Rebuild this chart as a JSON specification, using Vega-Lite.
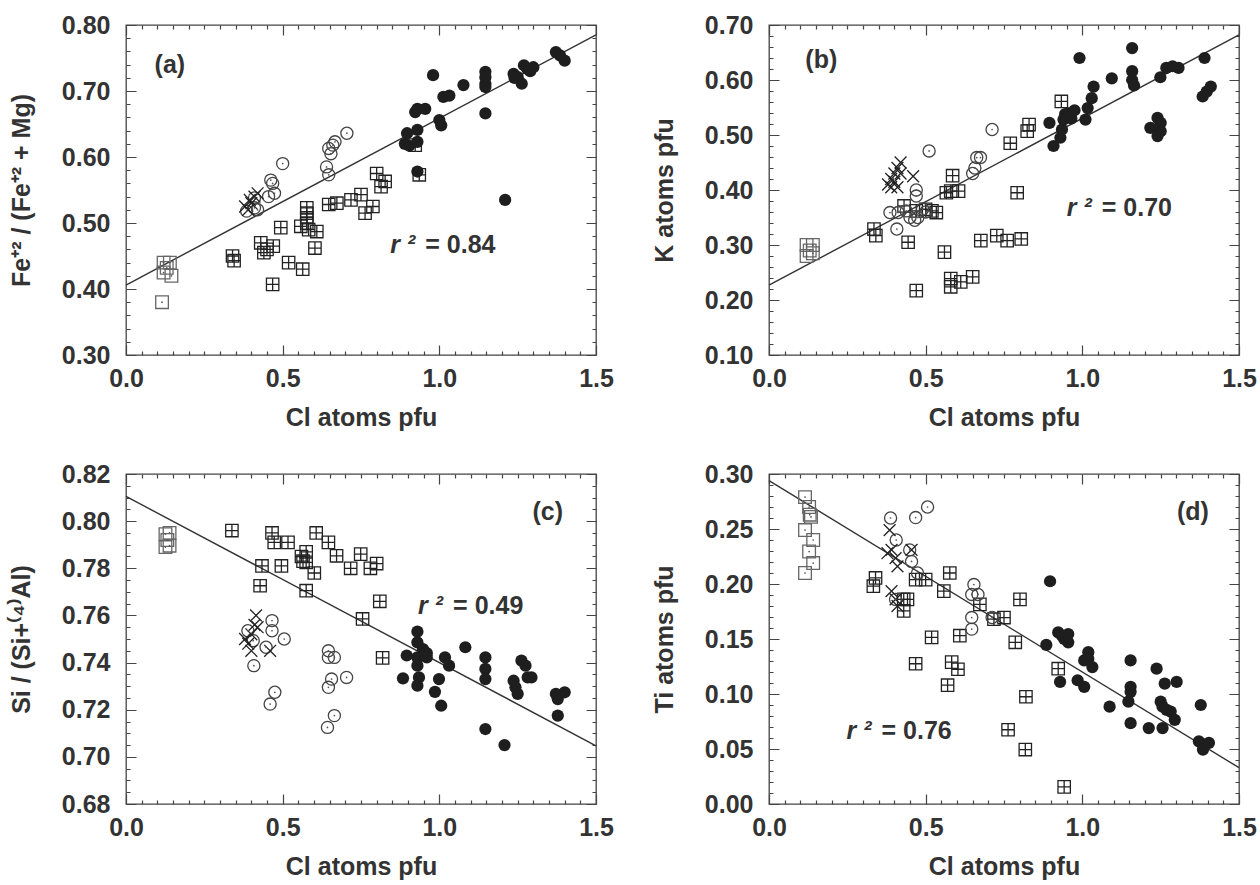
{
"$schema": "https://vega.github.io/schema/vega-lite/v6.json",
"padding": {"left": 8, "top": 12, "right": 5, "bottom": 5},
"columns": 2,
"spacing": {"row": 30, "column": 36},
"config": {
 "font": "Liberation Sans",
 "view": {"stroke": "#444", "strokeWidth": 1.3},
 "axis": {"domain": false, "ticks": false, "grid": true, "gridColor": "#444", "gridWidth": 1.2, "gridOpacity": 1, "labelFont": "Liberation Sans", "labelFontSize": 25, "labelFontWeight": "bold", "labelColor": "#333", "titleFont": "Liberation Sans", "titleFontSize": 25, "titleFontWeight": "bold", "titleColor": "#333", "labelFlush": false, "labelOverlap": false, "tickCount": 200}
},
"datasets": {
 "lines": [
  {"p":"a","cl":0,"v":0.406},{"p":"a","cl":1.5,"v":0.785},
  {"p":"b","cl":0,"v":0.227},{"p":"b","cl":1.5,"v":0.682},
  {"p":"c","cl":0,"v":0.8105},{"p":"c","cl":1.5,"v":0.7047},
  {"p":"d","cl":0,"v":0.294},{"p":"d","cl":1.5,"v":0.033}
 ],
 "ann": [
  {"p":"a","k":"lab","cl":0.14,"v":0.739,"t":"(a)"},{"p":"a","k":"r2","cl":0.955,"v":0.467,"t":"= 0.84"},
  {"p":"b","k":"lab","cl":0.167,"v":0.637,"t":"(b)"},{"p":"b","k":"r2","cl":1.062,"v":0.368,"t":"= 0.70"},
  {"p":"c","k":"lab","cl":1.346,"v":0.8037,"t":"(c)"},{"p":"c","k":"r2","cl":1.044,"v":0.764,"t":"= 0.49"},
  {"p":"d","k":"lab","cl":1.353,"v":0.2655,"t":"(d)"},{"p":"d","k":"r2","cl":0.359,"v":0.066,"t":"= 0.76"}
 ],
 "pts": [
  {"p":"a","s":"sq","cl":0.12,"v":0.44},{"p":"a","s":"sq","cl":0.14,"v":0.44},{"p":"a","s":"sq","cl":0.12,"v":0.425},{"p":"a","s":"sq","cl":0.145,"v":0.42},{"p":"a","s":"sq","cl":0.13,"v":0.432},{"p":"a","s":"sq","cl":0.115,"v":0.38},
  {"p":"a","s":"sqp","cl":0.34,"v":0.45},{"p":"a","s":"sqp","cl":0.345,"v":0.443},{"p":"a","s":"sqp","cl":0.43,"v":0.47},{"p":"a","s":"sqp","cl":0.44,"v":0.455},{"p":"a","s":"sqp","cl":0.47,"v":0.465},{"p":"a","s":"sqp","cl":0.45,"v":0.46},{"p":"a","s":"sqp","cl":0.468,"v":0.407},{"p":"a","s":"sqp","cl":0.494,"v":0.493},{"p":"a","s":"sqp","cl":0.519,"v":0.44},{"p":"a","s":"sqp","cl":0.564,"v":0.43},{"p":"a","s":"sqp","cl":0.558,"v":0.495},{"p":"a","s":"sqp","cl":0.577,"v":0.523},{"p":"a","s":"sqp","cl":0.577,"v":0.515},{"p":"a","s":"sqp","cl":0.577,"v":0.508},{"p":"a","s":"sqp","cl":0.577,"v":0.5},{"p":"a","s":"sqp","cl":0.583,"v":0.49},{"p":"a","s":"sqp","cl":0.609,"v":0.487},{"p":"a","s":"sqp","cl":0.603,"v":0.462},{"p":"a","s":"sqp","cl":0.647,"v":0.528},{"p":"a","s":"sqp","cl":0.673,"v":0.53},{"p":"a","s":"sqp","cl":0.718,"v":0.535},{"p":"a","s":"sqp","cl":0.75,"v":0.543},{"p":"a","s":"sqp","cl":0.763,"v":0.515},{"p":"a","s":"sqp","cl":0.788,"v":0.525},{"p":"a","s":"sqp","cl":0.8,"v":0.575},{"p":"a","s":"sqp","cl":0.814,"v":0.555},{"p":"a","s":"sqp","cl":0.827,"v":0.563},{"p":"a","s":"sqp","cl":0.923,"v":0.618},{"p":"a","s":"sqp","cl":0.936,"v":0.573},
  {"p":"a","s":"circ","cl":0.385,"v":0.518},{"p":"a","s":"circ","cl":0.41,"v":0.523},{"p":"a","s":"circ","cl":0.41,"v":0.538},{"p":"a","s":"circ","cl":0.455,"v":0.54},{"p":"a","s":"circ","cl":0.474,"v":0.545},{"p":"a","s":"circ","cl":0.462,"v":0.565},{"p":"a","s":"circ","cl":0.468,"v":0.56},{"p":"a","s":"circ","cl":0.5,"v":0.59},{"p":"a","s":"circ","cl":0.64,"v":0.585},{"p":"a","s":"circ","cl":0.647,"v":0.573},{"p":"a","s":"circ","cl":0.647,"v":0.613},{"p":"a","s":"circ","cl":0.654,"v":0.605},{"p":"a","s":"circ","cl":0.667,"v":0.623},{"p":"a","s":"circ","cl":0.66,"v":0.618},{"p":"a","s":"circ","cl":0.705,"v":0.636},{"p":"a","s":"circ","cl":0.42,"v":0.52},
  {"p":"a","s":"x","cl":0.38,"v":0.525},{"p":"a","s":"x","cl":0.39,"v":0.52},{"p":"a","s":"x","cl":0.4,"v":0.53},{"p":"a","s":"x","cl":0.41,"v":0.54},{"p":"a","s":"x","cl":0.42,"v":0.545},{"p":"a","s":"x","cl":0.395,"v":0.535},
  {"p":"a","s":"f","cl":0.89,"v":0.62},{"p":"a","s":"f","cl":0.904,"v":0.617},{"p":"a","s":"f","cl":0.93,"v":0.623},{"p":"a","s":"f","cl":0.897,"v":0.636},{"p":"a","s":"f","cl":0.93,"v":0.641},{"p":"a","s":"f","cl":0.923,"v":0.668},{"p":"a","s":"f","cl":0.93,"v":0.673},{"p":"a","s":"f","cl":0.955,"v":0.673},{"p":"a","s":"f","cl":0.93,"v":0.578},{"p":"a","s":"f","cl":0.98,"v":0.724},{"p":"a","s":"f","cl":1.0,"v":0.656},{"p":"a","s":"f","cl":1.006,"v":0.648},{"p":"a","s":"f","cl":1.013,"v":0.691},{"p":"a","s":"f","cl":1.032,"v":0.693},{"p":"a","s":"f","cl":1.077,"v":0.709},{"p":"a","s":"f","cl":1.147,"v":0.729},{"p":"a","s":"f","cl":1.147,"v":0.721},{"p":"a","s":"f","cl":1.147,"v":0.711},{"p":"a","s":"f","cl":1.147,"v":0.706},{"p":"a","s":"f","cl":1.147,"v":0.666},{"p":"a","s":"f","cl":1.21,"v":0.535},{"p":"a","s":"f","cl":1.237,"v":0.726},{"p":"a","s":"f","cl":1.25,"v":0.721},{"p":"a","s":"f","cl":1.263,"v":0.711},{"p":"a","s":"f","cl":1.27,"v":0.739},{"p":"a","s":"f","cl":1.28,"v":0.734},{"p":"a","s":"f","cl":1.3,"v":0.736},{"p":"a","s":"f","cl":1.372,"v":0.759},{"p":"a","s":"f","cl":1.385,"v":0.754},{"p":"a","s":"f","cl":1.4,"v":0.746},{"p":"a","s":"f","cl":1.29,"v":0.73},{"p":"a","s":"f","cl":1.24,"v":0.72},

  {"p":"b","s":"sq","cl":0.12,"v":0.3},{"p":"b","s":"sq","cl":0.12,"v":0.28},{"p":"b","s":"sq","cl":0.14,"v":0.3},{"p":"b","s":"sq","cl":0.14,"v":0.285},{"p":"b","s":"sq","cl":0.13,"v":0.29},
  {"p":"b","s":"sqp","cl":0.335,"v":0.329},{"p":"b","s":"sqp","cl":0.341,"v":0.317},{"p":"b","s":"sqp","cl":0.431,"v":0.371},{"p":"b","s":"sqp","cl":0.444,"v":0.305},{"p":"b","s":"sqp","cl":0.47,"v":0.362},{"p":"b","s":"sqp","cl":0.5,"v":0.365},{"p":"b","s":"sqp","cl":0.52,"v":0.362},{"p":"b","s":"sqp","cl":0.534,"v":0.359},{"p":"b","s":"sqp","cl":0.47,"v":0.217},{"p":"b","s":"sqp","cl":0.56,"v":0.287},{"p":"b","s":"sqp","cl":0.566,"v":0.395},{"p":"b","s":"sqp","cl":0.58,"v":0.398},{"p":"b","s":"sqp","cl":0.586,"v":0.426},{"p":"b","s":"sqp","cl":0.605,"v":0.398},{"p":"b","s":"sqp","cl":0.58,"v":0.239},{"p":"b","s":"sqp","cl":0.58,"v":0.224},{"p":"b","s":"sqp","cl":0.612,"v":0.233},{"p":"b","s":"sqp","cl":0.65,"v":0.242},{"p":"b","s":"sqp","cl":0.676,"v":0.308},{"p":"b","s":"sqp","cl":0.727,"v":0.317},{"p":"b","s":"sqp","cl":0.76,"v":0.308},{"p":"b","s":"sqp","cl":0.805,"v":0.311},{"p":"b","s":"sqp","cl":0.792,"v":0.395},{"p":"b","s":"sqp","cl":0.77,"v":0.485},{"p":"b","s":"sqp","cl":0.824,"v":0.507},{"p":"b","s":"sqp","cl":0.83,"v":0.519},{"p":"b","s":"sqp","cl":0.933,"v":0.561},
  {"p":"b","s":"circ","cl":0.386,"v":0.359},{"p":"b","s":"circ","cl":0.412,"v":0.359},{"p":"b","s":"circ","cl":0.438,"v":0.362},{"p":"b","s":"circ","cl":0.408,"v":0.329},{"p":"b","s":"circ","cl":0.45,"v":0.35},{"p":"b","s":"circ","cl":0.465,"v":0.345},{"p":"b","s":"circ","cl":0.475,"v":0.35},{"p":"b","s":"circ","cl":0.49,"v":0.365},{"p":"b","s":"circ","cl":0.5,"v":0.36},{"p":"b","s":"circ","cl":0.47,"v":0.4},{"p":"b","s":"circ","cl":0.47,"v":0.389},{"p":"b","s":"circ","cl":0.511,"v":0.471},{"p":"b","s":"circ","cl":0.657,"v":0.44},{"p":"b","s":"circ","cl":0.663,"v":0.459},{"p":"b","s":"circ","cl":0.675,"v":0.459},{"p":"b","s":"circ","cl":0.65,"v":0.43},{"p":"b","s":"circ","cl":0.712,"v":0.51},
  {"p":"b","s":"x","cl":0.38,"v":0.41},{"p":"b","s":"x","cl":0.39,"v":0.42},{"p":"b","s":"x","cl":0.4,"v":0.43},{"p":"b","s":"x","cl":0.41,"v":0.44},{"p":"b","s":"x","cl":0.42,"v":0.45},{"p":"b","s":"x","cl":0.4,"v":0.415},{"p":"b","s":"x","cl":0.41,"v":0.405},{"p":"b","s":"x","cl":0.42,"v":0.43},{"p":"b","s":"x","cl":0.39,"v":0.405},{"p":"b","s":"x","cl":0.46,"v":0.425},
  {"p":"b","s":"f","cl":0.895,"v":0.522},{"p":"b","s":"f","cl":0.908,"v":0.48},{"p":"b","s":"f","cl":0.93,"v":0.495},{"p":"b","s":"f","cl":0.935,"v":0.51},{"p":"b","s":"f","cl":0.94,"v":0.528},{"p":"b","s":"f","cl":0.945,"v":0.538},{"p":"b","s":"f","cl":0.96,"v":0.54},{"p":"b","s":"f","cl":0.965,"v":0.53},{"p":"b","s":"f","cl":0.975,"v":0.545},{"p":"b","s":"f","cl":1.01,"v":0.528},{"p":"b","s":"f","cl":1.017,"v":0.549},{"p":"b","s":"f","cl":1.03,"v":0.567},{"p":"b","s":"f","cl":1.036,"v":0.588},{"p":"b","s":"f","cl":0.991,"v":0.64},{"p":"b","s":"f","cl":1.094,"v":0.603},{"p":"b","s":"f","cl":1.159,"v":0.658},{"p":"b","s":"f","cl":1.159,"v":0.616},{"p":"b","s":"f","cl":1.159,"v":0.6},{"p":"b","s":"f","cl":1.165,"v":0.59},{"p":"b","s":"f","cl":1.217,"v":0.513},{"p":"b","s":"f","cl":1.24,"v":0.531},{"p":"b","s":"f","cl":1.25,"v":0.522},{"p":"b","s":"f","cl":1.25,"v":0.507},{"p":"b","s":"f","cl":1.24,"v":0.498},{"p":"b","s":"f","cl":1.249,"v":0.605},{"p":"b","s":"f","cl":1.268,"v":0.622},{"p":"b","s":"f","cl":1.288,"v":0.625},{"p":"b","s":"f","cl":1.307,"v":0.622},{"p":"b","s":"f","cl":1.39,"v":0.64},{"p":"b","s":"f","cl":1.384,"v":0.57},{"p":"b","s":"f","cl":1.397,"v":0.579},{"p":"b","s":"f","cl":1.41,"v":0.588},

  {"p":"c","s":"sq","cl":0.126,"v":0.7945},{"p":"c","s":"sq","cl":0.126,"v":0.789},{"p":"c","s":"sq","cl":0.139,"v":0.795},{"p":"c","s":"sq","cl":0.139,"v":0.7896},{"p":"c","s":"sq","cl":0.132,"v":0.792},
  {"p":"c","s":"sqp","cl":0.338,"v":0.796},{"p":"c","s":"sqp","cl":0.434,"v":0.781},{"p":"c","s":"sqp","cl":0.428,"v":0.7726},{"p":"c","s":"sqp","cl":0.466,"v":0.795},{"p":"c","s":"sqp","cl":0.473,"v":0.791},{"p":"c","s":"sqp","cl":0.496,"v":0.781},{"p":"c","s":"sqp","cl":0.517,"v":0.791},{"p":"c","s":"sqp","cl":0.56,"v":0.785},{"p":"c","s":"sqp","cl":0.575,"v":0.787},{"p":"c","s":"sqp","cl":0.575,"v":0.7825},{"p":"c","s":"sqp","cl":0.565,"v":0.783},{"p":"c","s":"sqp","cl":0.601,"v":0.778},{"p":"c","s":"sqp","cl":0.607,"v":0.795},{"p":"c","s":"sqp","cl":0.575,"v":0.7705},{"p":"c","s":"sqp","cl":0.646,"v":0.791},{"p":"c","s":"sqp","cl":0.672,"v":0.7853},{"p":"c","s":"sqp","cl":0.717,"v":0.78},{"p":"c","s":"sqp","cl":0.749,"v":0.786},{"p":"c","s":"sqp","cl":0.78,"v":0.78},{"p":"c","s":"sqp","cl":0.8,"v":0.782},{"p":"c","s":"sqp","cl":0.81,"v":0.766},{"p":"c","s":"sqp","cl":0.755,"v":0.7585},{"p":"c","s":"sqp","cl":0.819,"v":0.742},
  {"p":"c","s":"circ","cl":0.389,"v":0.7535},{"p":"c","s":"circ","cl":0.406,"v":0.7493},{"p":"c","s":"circ","cl":0.408,"v":0.7387},{"p":"c","s":"circ","cl":0.466,"v":0.7578},{"p":"c","s":"circ","cl":0.466,"v":0.7535},{"p":"c","s":"circ","cl":0.447,"v":0.7465},{"p":"c","s":"circ","cl":0.505,"v":0.75},{"p":"c","s":"circ","cl":0.46,"v":0.7224},{"p":"c","s":"circ","cl":0.475,"v":0.7274},{"p":"c","s":"circ","cl":0.646,"v":0.745},{"p":"c","s":"circ","cl":0.646,"v":0.7422},{"p":"c","s":"circ","cl":0.665,"v":0.7422},{"p":"c","s":"circ","cl":0.646,"v":0.7295},{"p":"c","s":"circ","cl":0.656,"v":0.733},{"p":"c","s":"circ","cl":0.704,"v":0.7337},{"p":"c","s":"circ","cl":0.665,"v":0.7175},{"p":"c","s":"circ","cl":0.643,"v":0.7125},
  {"p":"c","s":"x","cl":0.38,"v":0.75},{"p":"c","s":"x","cl":0.39,"v":0.748},{"p":"c","s":"x","cl":0.4,"v":0.752},{"p":"c","s":"x","cl":0.41,"v":0.756},{"p":"c","s":"x","cl":0.415,"v":0.76},{"p":"c","s":"x","cl":0.4,"v":0.745},{"p":"c","s":"x","cl":0.42,"v":0.755},{"p":"c","s":"x","cl":0.46,"v":0.745},
  {"p":"c","s":"f","cl":0.884,"v":0.7333},{"p":"c","s":"f","cl":0.896,"v":0.743},{"p":"c","s":"f","cl":0.93,"v":0.7531},{"p":"c","s":"f","cl":0.93,"v":0.7486},{"p":"c","s":"f","cl":0.93,"v":0.7422},{"p":"c","s":"f","cl":0.93,"v":0.7387},{"p":"c","s":"f","cl":0.935,"v":0.7337},{"p":"c","s":"f","cl":0.93,"v":0.7302},{"p":"c","s":"f","cl":0.948,"v":0.7457},{"p":"c","s":"f","cl":0.96,"v":0.744},{"p":"c","s":"f","cl":0.96,"v":0.7422},{"p":"c","s":"f","cl":0.986,"v":0.7276},{"p":"c","s":"f","cl":0.999,"v":0.733},{"p":"c","s":"f","cl":1.006,"v":0.7217},{"p":"c","s":"f","cl":1.018,"v":0.7422},{"p":"c","s":"f","cl":1.031,"v":0.7387},{"p":"c","s":"f","cl":1.083,"v":0.7465},{"p":"c","s":"f","cl":1.147,"v":0.7422},{"p":"c","s":"f","cl":1.147,"v":0.7373},{"p":"c","s":"f","cl":1.147,"v":0.733},{"p":"c","s":"f","cl":1.147,"v":0.7118},{"p":"c","s":"f","cl":1.208,"v":0.705},{"p":"c","s":"f","cl":1.237,"v":0.7323},{"p":"c","s":"f","cl":1.243,"v":0.7295},{"p":"c","s":"f","cl":1.25,"v":0.7267},{"p":"c","s":"f","cl":1.262,"v":0.7408},{"p":"c","s":"f","cl":1.275,"v":0.7387},{"p":"c","s":"f","cl":1.282,"v":0.7337},{"p":"c","s":"f","cl":1.294,"v":0.7337},{"p":"c","s":"f","cl":1.372,"v":0.7267},{"p":"c","s":"f","cl":1.378,"v":0.7245},{"p":"c","s":"f","cl":1.378,"v":0.7175},{"p":"c","s":"f","cl":1.4,"v":0.7274},

  {"p":"d","s":"sq","cl":0.115,"v":0.279},{"p":"d","s":"sq","cl":0.128,"v":0.27},{"p":"d","s":"sq","cl":0.134,"v":0.261},{"p":"d","s":"sq","cl":0.115,"v":0.249},{"p":"d","s":"sq","cl":0.141,"v":0.24},{"p":"d","s":"sq","cl":0.128,"v":0.2295},{"p":"d","s":"sq","cl":0.141,"v":0.219},{"p":"d","s":"sq","cl":0.115,"v":0.21},{"p":"d","s":"sq","cl":0.13,"v":0.263},
  {"p":"d","s":"sqp","cl":0.34,"v":0.2055},{"p":"d","s":"sqp","cl":0.333,"v":0.198},{"p":"d","s":"sqp","cl":0.43,"v":0.186},{"p":"d","s":"sqp","cl":0.442,"v":0.186},{"p":"d","s":"sqp","cl":0.43,"v":0.1755},{"p":"d","s":"sqp","cl":0.468,"v":0.204},{"p":"d","s":"sqp","cl":0.5,"v":0.204},{"p":"d","s":"sqp","cl":0.468,"v":0.1275},{"p":"d","s":"sqp","cl":0.519,"v":0.1515},{"p":"d","s":"sqp","cl":0.558,"v":0.1935},{"p":"d","s":"sqp","cl":0.577,"v":0.21},{"p":"d","s":"sqp","cl":0.583,"v":0.129},{"p":"d","s":"sqp","cl":0.603,"v":0.1225},{"p":"d","s":"sqp","cl":0.57,"v":0.108},{"p":"d","s":"sqp","cl":0.609,"v":0.153},{"p":"d","s":"sqp","cl":0.673,"v":0.1815},{"p":"d","s":"sqp","cl":0.718,"v":0.168},{"p":"d","s":"sqp","cl":0.75,"v":0.1695},{"p":"d","s":"sqp","cl":0.786,"v":0.147},{"p":"d","s":"sqp","cl":0.801,"v":0.186},{"p":"d","s":"sqp","cl":0.763,"v":0.0675},{"p":"d","s":"sqp","cl":0.82,"v":0.0975},{"p":"d","s":"sqp","cl":0.818,"v":0.0495},{"p":"d","s":"sqp","cl":0.923,"v":0.123},{"p":"d","s":"sqp","cl":0.942,"v":0.0156},
  {"p":"d","s":"circ","cl":0.388,"v":0.26},{"p":"d","s":"circ","cl":0.406,"v":0.24},{"p":"d","s":"circ","cl":0.449,"v":0.231},{"p":"d","s":"circ","cl":0.455,"v":0.2205},{"p":"d","s":"circ","cl":0.404,"v":0.186},{"p":"d","s":"circ","cl":0.474,"v":0.21},{"p":"d","s":"circ","cl":0.468,"v":0.2604},{"p":"d","s":"circ","cl":0.506,"v":0.27},{"p":"d","s":"circ","cl":0.654,"v":0.1995},{"p":"d","s":"circ","cl":0.647,"v":0.1905},{"p":"d","s":"circ","cl":0.667,"v":0.1905},{"p":"d","s":"circ","cl":0.647,"v":0.1695},{"p":"d","s":"circ","cl":0.647,"v":0.159},{"p":"d","s":"circ","cl":0.712,"v":0.1695},
  {"p":"d","s":"x","cl":0.385,"v":0.249},{"p":"d","s":"x","cl":0.391,"v":0.231},{"p":"d","s":"x","cl":0.378,"v":0.228},{"p":"d","s":"x","cl":0.404,"v":0.2235},{"p":"d","s":"x","cl":0.41,"v":0.216},{"p":"d","s":"x","cl":0.391,"v":0.1935},{"p":"d","s":"x","cl":0.404,"v":0.186},{"p":"d","s":"x","cl":0.41,"v":0.18},{"p":"d","s":"x","cl":0.455,"v":0.231},
  {"p":"d","s":"f","cl":0.897,"v":0.2025},{"p":"d","s":"f","cl":0.885,"v":0.1446},{"p":"d","s":"f","cl":0.923,"v":0.156},{"p":"d","s":"f","cl":0.935,"v":0.153},{"p":"d","s":"f","cl":0.942,"v":0.15},{"p":"d","s":"f","cl":0.955,"v":0.1545},{"p":"d","s":"f","cl":0.955,"v":0.147},{"p":"d","s":"f","cl":0.929,"v":0.111},{"p":"d","s":"f","cl":0.985,"v":0.1125},{"p":"d","s":"f","cl":1.006,"v":0.1305},{"p":"d","s":"f","cl":1.019,"v":0.138},{"p":"d","s":"f","cl":1.019,"v":0.132},{"p":"d","s":"f","cl":1.032,"v":0.1245},{"p":"d","s":"f","cl":1.006,"v":0.1065},{"p":"d","s":"f","cl":1.087,"v":0.0885},{"p":"d","s":"f","cl":1.154,"v":0.1305},{"p":"d","s":"f","cl":1.154,"v":0.1065},{"p":"d","s":"f","cl":1.154,"v":0.102},{"p":"d","s":"f","cl":1.147,"v":0.093},{"p":"d","s":"f","cl":1.154,"v":0.0735},{"p":"d","s":"f","cl":1.212,"v":0.069},{"p":"d","s":"f","cl":1.237,"v":0.123},{"p":"d","s":"f","cl":1.25,"v":0.093},{"p":"d","s":"f","cl":1.256,"v":0.0885},{"p":"d","s":"f","cl":1.269,"v":0.0855},{"p":"d","s":"f","cl":1.282,"v":0.084},{"p":"d","s":"f","cl":1.295,"v":0.0765},{"p":"d","s":"f","cl":1.256,"v":0.069},{"p":"d","s":"f","cl":1.263,"v":0.1095},{"p":"d","s":"f","cl":1.301,"v":0.111},{"p":"d","s":"f","cl":1.378,"v":0.09},{"p":"d","s":"f","cl":1.372,"v":0.057},{"p":"d","s":"f","cl":1.391,"v":0.054},{"p":"d","s":"f","cl":1.404,"v":0.0555},{"p":"d","s":"f","cl":1.385,"v":0.0495}
 ]
},
"concat": [
 {
  "width": 470, "height": 330,
  "layer": [
   {"data": {"name": "lines"}, "transform": [{"filter": "datum.p === 'a'"}],
    "mark": {"type": "line", "color": "#333", "strokeWidth": 1.4},
    "encoding": {
     "x": {"field": "cl", "type": "quantitative", "scale": {"domain": [0, 1.5], "nice": false, "zero": false}, "axis": {"orient": "bottom", "tickCount": 200, "labelOverlap": false, "labelFlush": false, "values": [0,0.05,0.1,0.15,0.2,0.25,0.3,0.35,0.4,0.45,0.5,0.55,0.6,0.65,0.7,0.75,0.8,0.85,0.9,0.95,1,1.05,1.1,1.15,1.2,1.25,1.3,1.35,1.4,1.45,1.5], "labelExpr": "abs(datum.value*2 - round(datum.value*2)) < 0.001 ? format(datum.value, '.1f') : ''", "gridDash": {"condition": {"test": "abs(datum.value*2 - round(datum.value*2)) < 0.001", "value": [10, 310, 10, 1000]}, "value": [4, 322, 4, 1000]}, "title": "Cl atoms pfu", "labelPadding": 11, "titlePadding": 14}},
     "y": {"field": "v", "type": "quantitative", "scale": {"domain": [0.3, 0.8], "nice": false, "zero": false}, "axis": {"orient": "left", "tickCount": 200, "labelOverlap": false, "values": [0.3,0.32,0.34,0.36,0.38,0.4,0.42,0.44,0.46,0.48,0.5,0.52,0.54,0.56,0.58,0.6,0.62,0.64,0.66,0.68,0.7,0.72,0.74,0.76,0.78,0.8], "labelExpr": "abs(datum.value*10 - round(datum.value*10)) < 0.001 ? format(datum.value, '.2f') : ''", "gridDash": {"condition": {"test": "abs(datum.value*10 - round(datum.value*10)) < 0.001", "value": [10, 450, 10, 1000]}, "value": [4, 462, 4, 1000]}, "title": "Fe⁺² / (Fe⁺² + Mg)", "labelPadding": 16, "titlePadding": 27}}
    }},
   {"data": {"name": "pts"}, "transform": [{"filter": "datum.p === 'a' && datum.s !== 'f'"}],
    "mark": {"type": "point", "filled": false, "strokeWidth": 1.3, "opacity": 1},
    "encoding": {
     "x": {"field": "cl", "type": "quantitative", "scale": {"domain": [0, 1.5], "nice": false, "zero": false}},
     "y": {"field": "v", "type": "quantitative", "scale": {"domain": [0.3, 0.8], "nice": false, "zero": false}},
     "shape": {"field": "s", "type": "nominal", "scale": {"domain": ["sq", "sqp", "circ", "x"], "range": ["square", "M-1,-1H1V1H-1Z M0,-1V1 M-1,0H1", "circle", "M-1,-1L1,1 M-1,1L1,-1"]}, "legend": null},
     "size": {"field": "s", "type": "nominal", "scale": {"domain": ["sq", "sqp", "circ", "x"], "range": [160, 140, 130, 120]}, "legend": null},
     "stroke": {"field": "s", "type": "nominal", "scale": {"domain": ["sq", "sqp", "circ", "x"], "range": ["#666666", "#222222", "#444444", "#222222"]}, "legend": null}
    }},
   {"data": {"name": "pts"}, "transform": [{"filter": "datum.p === 'a' && datum.s === 'f'"}],
    "mark": {"type": "circle", "size": 150, "color": "#1e1e1e", "opacity": 1},
    "encoding": {
     "x": {"field": "cl", "type": "quantitative", "scale": {"domain": [0, 1.5], "nice": false, "zero": false}},
     "y": {"field": "v", "type": "quantitative", "scale": {"domain": [0.3, 0.8], "nice": false, "zero": false}}
    }},
   {"data": {"name": "pts"}, "transform": [{"filter": "datum.p === 'a' && (datum.s === 'sq' || datum.s === 'circ')"}],
    "mark": {"type": "circle", "size": 3, "color": "#555", "opacity": 1},
    "encoding": {
     "x": {"field": "cl", "type": "quantitative", "scale": {"domain": [0, 1.5], "nice": false, "zero": false}},
     "y": {"field": "v", "type": "quantitative", "scale": {"domain": [0.3, 0.8], "nice": false, "zero": false}}
    }},
   {"data": {"name": "ann"}, "transform": [{"filter": "datum.p === 'a' && datum.k === 'lab'"}],
    "mark": {"type": "text", "font": "Liberation Sans", "fontSize": 25, "fontWeight": "bold", "color": "#333", "align": "center", "baseline": "middle"},
    "encoding": {"x": {"field": "cl", "type": "quantitative", "scale": {"domain": [0, 1.5], "nice": false, "zero": false}}, "y": {"field": "v", "type": "quantitative", "scale": {"domain": [0.3, 0.8], "nice": false, "zero": false}}, "text": {"field": "t"}}},
   {"data": {"name": "ann"}, "transform": [{"filter": "datum.p === 'a' && datum.k === 'r2'"}],
    "mark": {"type": "text", "font": "Liberation Sans", "fontSize": 25, "fontWeight": "bold", "color": "#333", "align": "left", "baseline": "middle"},
    "encoding": {"x": {"field": "cl", "type": "quantitative", "scale": {"domain": [0, 1.5], "nice": false, "zero": false}}, "y": {"field": "v", "type": "quantitative", "scale": {"domain": [0.3, 0.8], "nice": false, "zero": false}}, "text": {"field": "t"}}},
   {"data": {"name": "ann"}, "transform": [{"filter": "datum.p === 'a' && datum.k === 'r2'"}],
    "mark": {"type": "text", "font": "Liberation Sans", "fontSize": 25, "fontWeight": "bold", "fontStyle": "italic", "color": "#333", "align": "right", "baseline": "middle", "dx": -10},
    "encoding": {"x": {"field": "cl", "type": "quantitative", "scale": {"domain": [0, 1.5], "nice": false, "zero": false}}, "y": {"field": "v", "type": "quantitative", "scale": {"domain": [0.3, 0.8], "nice": false, "zero": false}}, "text": {"value": "r ²"}}}
  ]
 },
 {
  "width": 470, "height": 330,
  "layer": [
   {"data": {"name": "lines"}, "transform": [{"filter": "datum.p === 'b'"}],
    "mark": {"type": "line", "color": "#333", "strokeWidth": 1.4},
    "encoding": {
     "x": {"field": "cl", "type": "quantitative", "scale": {"domain": [0, 1.5], "nice": false, "zero": false}, "axis": {"orient": "bottom", "tickCount": 200, "labelOverlap": false, "labelFlush": false, "values": [0,0.05,0.1,0.15,0.2,0.25,0.3,0.35,0.4,0.45,0.5,0.55,0.6,0.65,0.7,0.75,0.8,0.85,0.9,0.95,1,1.05,1.1,1.15,1.2,1.25,1.3,1.35,1.4,1.45,1.5], "labelExpr": "abs(datum.value*2 - round(datum.value*2)) < 0.001 ? format(datum.value, '.1f') : ''", "gridDash": {"condition": {"test": "abs(datum.value*2 - round(datum.value*2)) < 0.001", "value": [10, 310, 10, 1000]}, "value": [4, 322, 4, 1000]}, "title": "Cl atoms pfu", "labelPadding": 11, "titlePadding": 14}},
     "y": {"field": "v", "type": "quantitative", "scale": {"domain": [0.1, 0.7], "nice": false, "zero": false}, "axis": {"orient": "left", "tickCount": 200, "labelOverlap": false, "values": [0.1,0.12,0.14,0.16,0.18,0.2,0.22,0.24,0.26,0.28,0.3,0.32,0.34,0.36,0.38,0.4,0.42,0.44,0.46,0.48,0.5,0.52,0.54,0.56,0.58,0.6,0.62,0.64,0.66,0.68,0.7], "labelExpr": "abs(datum.value*10 - round(datum.value*10)) < 0.001 ? format(datum.value, '.2f') : ''", "gridDash": {"condition": {"test": "abs(datum.value*10 - round(datum.value*10)) < 0.001", "value": [10, 450, 10, 1000]}, "value": [4, 462, 4, 1000]}, "title": "K atoms pfu", "labelPadding": 16, "titlePadding": 27}}
    }},
   {"data": {"name": "pts"}, "transform": [{"filter": "datum.p === 'b' && datum.s !== 'f'"}],
    "mark": {"type": "point", "filled": false, "strokeWidth": 1.3, "opacity": 1},
    "encoding": {
     "x": {"field": "cl", "type": "quantitative", "scale": {"domain": [0, 1.5], "nice": false, "zero": false}},
     "y": {"field": "v", "type": "quantitative", "scale": {"domain": [0.1, 0.7], "nice": false, "zero": false}},
     "shape": {"field": "s", "type": "nominal", "scale": {"domain": ["sq", "sqp", "circ", "x"], "range": ["square", "M-1,-1H1V1H-1Z M0,-1V1 M-1,0H1", "circle", "M-1,-1L1,1 M-1,1L1,-1"]}, "legend": null},
     "size": {"field": "s", "type": "nominal", "scale": {"domain": ["sq", "sqp", "circ", "x"], "range": [160, 140, 130, 120]}, "legend": null},
     "stroke": {"field": "s", "type": "nominal", "scale": {"domain": ["sq", "sqp", "circ", "x"], "range": ["#666666", "#222222", "#444444", "#222222"]}, "legend": null}
    }},
   {"data": {"name": "pts"}, "transform": [{"filter": "datum.p === 'b' && datum.s === 'f'"}],
    "mark": {"type": "circle", "size": 150, "color": "#1e1e1e", "opacity": 1},
    "encoding": {
     "x": {"field": "cl", "type": "quantitative", "scale": {"domain": [0, 1.5], "nice": false, "zero": false}},
     "y": {"field": "v", "type": "quantitative", "scale": {"domain": [0.1, 0.7], "nice": false, "zero": false}}
    }},
   {"data": {"name": "pts"}, "transform": [{"filter": "datum.p === 'b' && (datum.s === 'sq' || datum.s === 'circ')"}],
    "mark": {"type": "circle", "size": 3, "color": "#555", "opacity": 1},
    "encoding": {
     "x": {"field": "cl", "type": "quantitative", "scale": {"domain": [0, 1.5], "nice": false, "zero": false}},
     "y": {"field": "v", "type": "quantitative", "scale": {"domain": [0.1, 0.7], "nice": false, "zero": false}}
    }},
   {"data": {"name": "ann"}, "transform": [{"filter": "datum.p === 'b' && datum.k === 'lab'"}],
    "mark": {"type": "text", "font": "Liberation Sans", "fontSize": 25, "fontWeight": "bold", "color": "#333", "align": "center", "baseline": "middle"},
    "encoding": {"x": {"field": "cl", "type": "quantitative", "scale": {"domain": [0, 1.5], "nice": false, "zero": false}}, "y": {"field": "v", "type": "quantitative", "scale": {"domain": [0.1, 0.7], "nice": false, "zero": false}}, "text": {"field": "t"}}},
   {"data": {"name": "ann"}, "transform": [{"filter": "datum.p === 'b' && datum.k === 'r2'"}],
    "mark": {"type": "text", "font": "Liberation Sans", "fontSize": 25, "fontWeight": "bold", "color": "#333", "align": "left", "baseline": "middle"},
    "encoding": {"x": {"field": "cl", "type": "quantitative", "scale": {"domain": [0, 1.5], "nice": false, "zero": false}}, "y": {"field": "v", "type": "quantitative", "scale": {"domain": [0.1, 0.7], "nice": false, "zero": false}}, "text": {"field": "t"}}},
   {"data": {"name": "ann"}, "transform": [{"filter": "datum.p === 'b' && datum.k === 'r2'"}],
    "mark": {"type": "text", "font": "Liberation Sans", "fontSize": 25, "fontWeight": "bold", "fontStyle": "italic", "color": "#333", "align": "right", "baseline": "middle", "dx": -10},
    "encoding": {"x": {"field": "cl", "type": "quantitative", "scale": {"domain": [0, 1.5], "nice": false, "zero": false}}, "y": {"field": "v", "type": "quantitative", "scale": {"domain": [0.1, 0.7], "nice": false, "zero": false}}, "text": {"value": "r ²"}}}
  ]
 },
 {
  "width": 470, "height": 330,
  "layer": [
   {"data": {"name": "lines"}, "transform": [{"filter": "datum.p === 'c'"}],
    "mark": {"type": "line", "color": "#333", "strokeWidth": 1.4},
    "encoding": {
     "x": {"field": "cl", "type": "quantitative", "scale": {"domain": [0, 1.5], "nice": false, "zero": false}, "axis": {"orient": "bottom", "tickCount": 200, "labelOverlap": false, "labelFlush": false, "values": [0,0.05,0.1,0.15,0.2,0.25,0.3,0.35,0.4,0.45,0.5,0.55,0.6,0.65,0.7,0.75,0.8,0.85,0.9,0.95,1,1.05,1.1,1.15,1.2,1.25,1.3,1.35,1.4,1.45,1.5], "labelExpr": "abs(datum.value*2 - round(datum.value*2)) < 0.001 ? format(datum.value, '.1f') : ''", "gridDash": {"condition": {"test": "abs(datum.value*2 - round(datum.value*2)) < 0.001", "value": [10, 310, 10, 1000]}, "value": [4, 322, 4, 1000]}, "title": "Cl atoms pfu", "labelPadding": 11, "titlePadding": 14}},
     "y": {"field": "v", "type": "quantitative", "scale": {"domain": [0.68, 0.82], "nice": false, "zero": false}, "axis": {"orient": "left", "tickCount": 200, "labelOverlap": false, "values": [0.68,0.685,0.69,0.695,0.7,0.705,0.71,0.715,0.72,0.725,0.73,0.735,0.74,0.745,0.75,0.755,0.76,0.765,0.77,0.775,0.78,0.785,0.79,0.795,0.8,0.805,0.81,0.815,0.82], "labelExpr": "abs(datum.value*50 - round(datum.value*50)) < 0.001 ? format(datum.value, '.2f') : ''", "gridDash": {"condition": {"test": "abs(datum.value*50 - round(datum.value*50)) < 0.001", "value": [10, 450, 10, 1000]}, "value": [4, 462, 4, 1000]}, "title": "Si / (Si+⁽⁴⁾Al)", "labelPadding": 16, "titlePadding": 27}}
    }},
   {"data": {"name": "pts"}, "transform": [{"filter": "datum.p === 'c' && datum.s !== 'f'"}],
    "mark": {"type": "point", "filled": false, "strokeWidth": 1.3, "opacity": 1},
    "encoding": {
     "x": {"field": "cl", "type": "quantitative", "scale": {"domain": [0, 1.5], "nice": false, "zero": false}},
     "y": {"field": "v", "type": "quantitative", "scale": {"domain": [0.68, 0.82], "nice": false, "zero": false}},
     "shape": {"field": "s", "type": "nominal", "scale": {"domain": ["sq", "sqp", "circ", "x"], "range": ["square", "M-1,-1H1V1H-1Z M0,-1V1 M-1,0H1", "circle", "M-1,-1L1,1 M-1,1L1,-1"]}, "legend": null},
     "size": {"field": "s", "type": "nominal", "scale": {"domain": ["sq", "sqp", "circ", "x"], "range": [160, 140, 130, 120]}, "legend": null},
     "stroke": {"field": "s", "type": "nominal", "scale": {"domain": ["sq", "sqp", "circ", "x"], "range": ["#666666", "#222222", "#444444", "#222222"]}, "legend": null}
    }},
   {"data": {"name": "pts"}, "transform": [{"filter": "datum.p === 'c' && datum.s === 'f'"}],
    "mark": {"type": "circle", "size": 150, "color": "#1e1e1e", "opacity": 1},
    "encoding": {
     "x": {"field": "cl", "type": "quantitative", "scale": {"domain": [0, 1.5], "nice": false, "zero": false}},
     "y": {"field": "v", "type": "quantitative", "scale": {"domain": [0.68, 0.82], "nice": false, "zero": false}}
    }},
   {"data": {"name": "pts"}, "transform": [{"filter": "datum.p === 'c' && (datum.s === 'sq' || datum.s === 'circ')"}],
    "mark": {"type": "circle", "size": 3, "color": "#555", "opacity": 1},
    "encoding": {
     "x": {"field": "cl", "type": "quantitative", "scale": {"domain": [0, 1.5], "nice": false, "zero": false}},
     "y": {"field": "v", "type": "quantitative", "scale": {"domain": [0.68, 0.82], "nice": false, "zero": false}}
    }},
   {"data": {"name": "ann"}, "transform": [{"filter": "datum.p === 'c' && datum.k === 'lab'"}],
    "mark": {"type": "text", "font": "Liberation Sans", "fontSize": 25, "fontWeight": "bold", "color": "#333", "align": "center", "baseline": "middle"},
    "encoding": {"x": {"field": "cl", "type": "quantitative", "scale": {"domain": [0, 1.5], "nice": false, "zero": false}}, "y": {"field": "v", "type": "quantitative", "scale": {"domain": [0.68, 0.82], "nice": false, "zero": false}}, "text": {"field": "t"}}},
   {"data": {"name": "ann"}, "transform": [{"filter": "datum.p === 'c' && datum.k === 'r2'"}],
    "mark": {"type": "text", "font": "Liberation Sans", "fontSize": 25, "fontWeight": "bold", "color": "#333", "align": "left", "baseline": "middle"},
    "encoding": {"x": {"field": "cl", "type": "quantitative", "scale": {"domain": [0, 1.5], "nice": false, "zero": false}}, "y": {"field": "v", "type": "quantitative", "scale": {"domain": [0.68, 0.82], "nice": false, "zero": false}}, "text": {"field": "t"}}},
   {"data": {"name": "ann"}, "transform": [{"filter": "datum.p === 'c' && datum.k === 'r2'"}],
    "mark": {"type": "text", "font": "Liberation Sans", "fontSize": 25, "fontWeight": "bold", "fontStyle": "italic", "color": "#333", "align": "right", "baseline": "middle", "dx": -10},
    "encoding": {"x": {"field": "cl", "type": "quantitative", "scale": {"domain": [0, 1.5], "nice": false, "zero": false}}, "y": {"field": "v", "type": "quantitative", "scale": {"domain": [0.68, 0.82], "nice": false, "zero": false}}, "text": {"value": "r ²"}}}
  ]
 },
 {
  "width": 470, "height": 330,
  "layer": [
   {"data": {"name": "lines"}, "transform": [{"filter": "datum.p === 'd'"}],
    "mark": {"type": "line", "color": "#333", "strokeWidth": 1.4},
    "encoding": {
     "x": {"field": "cl", "type": "quantitative", "scale": {"domain": [0, 1.5], "nice": false, "zero": false}, "axis": {"orient": "bottom", "tickCount": 200, "labelOverlap": false, "labelFlush": false, "values": [0,0.05,0.1,0.15,0.2,0.25,0.3,0.35,0.4,0.45,0.5,0.55,0.6,0.65,0.7,0.75,0.8,0.85,0.9,0.95,1,1.05,1.1,1.15,1.2,1.25,1.3,1.35,1.4,1.45,1.5], "labelExpr": "abs(datum.value*2 - round(datum.value*2)) < 0.001 ? format(datum.value, '.1f') : ''", "gridDash": {"condition": {"test": "abs(datum.value*2 - round(datum.value*2)) < 0.001", "value": [10, 310, 10, 1000]}, "value": [4, 322, 4, 1000]}, "title": "Cl atoms pfu", "labelPadding": 11, "titlePadding": 14}},
     "y": {"field": "v", "type": "quantitative", "scale": {"domain": [0, 0.3], "nice": false, "zero": false}, "axis": {"orient": "left", "tickCount": 200, "labelOverlap": false, "values": [0,0.01,0.02,0.03,0.04,0.05,0.06,0.07,0.08,0.09,0.1,0.11,0.12,0.13,0.14,0.15,0.16,0.17,0.18,0.19,0.2,0.21,0.22,0.23,0.24,0.25,0.26,0.27,0.28,0.29,0.3], "labelExpr": "abs(datum.value*20 - round(datum.value*20)) < 0.001 ? format(datum.value, '.2f') : ''", "gridDash": {"condition": {"test": "abs(datum.value*20 - round(datum.value*20)) < 0.001", "value": [10, 450, 10, 1000]}, "value": [4, 462, 4, 1000]}, "title": "Ti atoms pfu", "labelPadding": 16, "titlePadding": 27}}
    }},
   {"data": {"name": "pts"}, "transform": [{"filter": "datum.p === 'd' && datum.s !== 'f'"}],
    "mark": {"type": "point", "filled": false, "strokeWidth": 1.3, "opacity": 1},
    "encoding": {
     "x": {"field": "cl", "type": "quantitative", "scale": {"domain": [0, 1.5], "nice": false, "zero": false}},
     "y": {"field": "v", "type": "quantitative", "scale": {"domain": [0, 0.3], "nice": false, "zero": false}},
     "shape": {"field": "s", "type": "nominal", "scale": {"domain": ["sq", "sqp", "circ", "x"], "range": ["square", "M-1,-1H1V1H-1Z M0,-1V1 M-1,0H1", "circle", "M-1,-1L1,1 M-1,1L1,-1"]}, "legend": null},
     "size": {"field": "s", "type": "nominal", "scale": {"domain": ["sq", "sqp", "circ", "x"], "range": [160, 140, 130, 120]}, "legend": null},
     "stroke": {"field": "s", "type": "nominal", "scale": {"domain": ["sq", "sqp", "circ", "x"], "range": ["#666666", "#222222", "#444444", "#222222"]}, "legend": null}
    }},
   {"data": {"name": "pts"}, "transform": [{"filter": "datum.p === 'd' && datum.s === 'f'"}],
    "mark": {"type": "circle", "size": 150, "color": "#1e1e1e", "opacity": 1},
    "encoding": {
     "x": {"field": "cl", "type": "quantitative", "scale": {"domain": [0, 1.5], "nice": false, "zero": false}},
     "y": {"field": "v", "type": "quantitative", "scale": {"domain": [0, 0.3], "nice": false, "zero": false}}
    }},
   {"data": {"name": "pts"}, "transform": [{"filter": "datum.p === 'd' && (datum.s === 'sq' || datum.s === 'circ')"}],
    "mark": {"type": "circle", "size": 3, "color": "#555", "opacity": 1},
    "encoding": {
     "x": {"field": "cl", "type": "quantitative", "scale": {"domain": [0, 1.5], "nice": false, "zero": false}},
     "y": {"field": "v", "type": "quantitative", "scale": {"domain": [0, 0.3], "nice": false, "zero": false}}
    }},
   {"data": {"name": "ann"}, "transform": [{"filter": "datum.p === 'd' && datum.k === 'lab'"}],
    "mark": {"type": "text", "font": "Liberation Sans", "fontSize": 25, "fontWeight": "bold", "color": "#333", "align": "center", "baseline": "middle"},
    "encoding": {"x": {"field": "cl", "type": "quantitative", "scale": {"domain": [0, 1.5], "nice": false, "zero": false}}, "y": {"field": "v", "type": "quantitative", "scale": {"domain": [0, 0.3], "nice": false, "zero": false}}, "text": {"field": "t"}}},
   {"data": {"name": "ann"}, "transform": [{"filter": "datum.p === 'd' && datum.k === 'r2'"}],
    "mark": {"type": "text", "font": "Liberation Sans", "fontSize": 25, "fontWeight": "bold", "color": "#333", "align": "left", "baseline": "middle"},
    "encoding": {"x": {"field": "cl", "type": "quantitative", "scale": {"domain": [0, 1.5], "nice": false, "zero": false}}, "y": {"field": "v", "type": "quantitative", "scale": {"domain": [0, 0.3], "nice": false, "zero": false}}, "text": {"field": "t"}}},
   {"data": {"name": "ann"}, "transform": [{"filter": "datum.p === 'd' && datum.k === 'r2'"}],
    "mark": {"type": "text", "font": "Liberation Sans", "fontSize": 25, "fontWeight": "bold", "fontStyle": "italic", "color": "#333", "align": "right", "baseline": "middle", "dx": -10},
    "encoding": {"x": {"field": "cl", "type": "quantitative", "scale": {"domain": [0, 1.5], "nice": false, "zero": false}}, "y": {"field": "v", "type": "quantitative", "scale": {"domain": [0, 0.3], "nice": false, "zero": false}}, "text": {"value": "r ²"}}}
  ]
 }
]
}
